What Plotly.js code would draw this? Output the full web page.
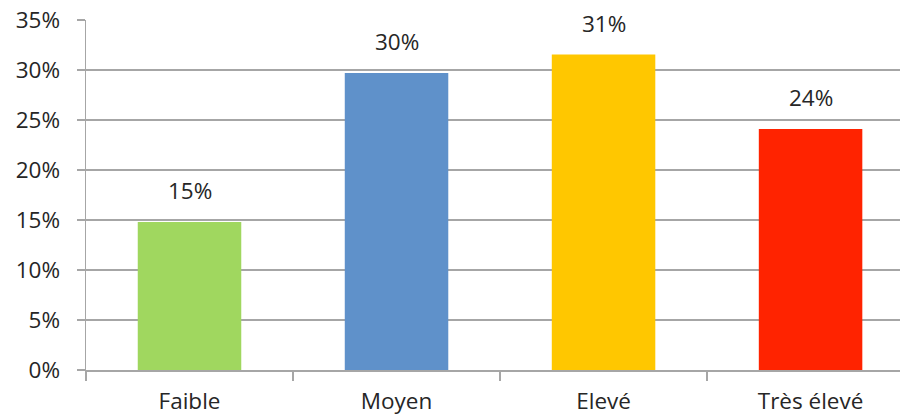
<!DOCTYPE html>
<html>
<head>
<meta charset="utf-8">
<script src="https://cdn.plot.ly/plotly-3.0.1.min.js"></script>
<style>html,body{margin:0;padding:0;background:#fff;}#chart{width:900px;height:418px;}</style>
</head>
<body>
<div id="chart"></div>
<script>
const categories = ['Faible', 'Moyen', 'Elevé', 'Très élevé'];
const values = [0.148, 0.297, 0.3155, 0.241];
const valueLabels = ['15%', '30%', '31%', '24%'];
const barColors = ['#a0d75f', '#5f91ca', '#ffc700', '#ff2300'];
const yTickVals = [0, 0.05, 0.10, 0.15, 0.20, 0.25, 0.30, 0.35];
const yTickText = ['0%', '5%', '10%', '15%', '20%', '25%', '30%', '35%'];

const font = {family: 'Open Sans, Liberation Sans, sans-serif', size: 22.5, color: '#262626'};

const trace = {
  type: 'bar',
  x: categories,
  y: values,
  marker: {color: barColors, line: {width: 0}},
  width: 0.5,
  hoverinfo: 'none'
};

const annotations = categories.map((c, i) => ({
  x: c, y: values[i], text: valueLabels[i],
  showarrow: false, xanchor: 'center', yanchor: 'bottom', yshift: 14,
  font: font
}));

const layout = {
  width: 900, height: 418,
  margin: {l: 86, r: 0, t: 20, b: 48},
  paper_bgcolor: '#fff', plot_bgcolor: '#fff',
  font: font,
  showlegend: false,
  bargap: 0.5,
  xaxis: {
    range: [-0.5, 3.432],
    showgrid: false,
    showline: true, linecolor: '#a6a6a6', linewidth: 1.5,
    ticks: 'outside', tickson: 'boundaries', ticklen: 9, tickcolor: '#a6a6a6', tickwidth: 1.5,
    ticklabelstandoff: 10,
    tickfont: font,
    fixedrange: true
  },
  yaxis: {
    range: [0, 0.35],
    tickvals: yTickVals, ticktext: yTickText,
    showgrid: true, gridcolor: '#a6a6a6', gridwidth: 1.5,
    zeroline: false,
    showline: true, linecolor: '#a6a6a6', linewidth: 1.5,
    ticks: 'outside', ticklen: 8, tickcolor: '#a6a6a6', tickwidth: 1.5,
    ticklabelstandoff: 12,
    tickfont: font,
    fixedrange: true
  },
  annotations: annotations
};

Plotly.newPlot('chart', [trace], layout, {staticPlot: true, displayModeBar: false});
</script>
</body>
</html>
